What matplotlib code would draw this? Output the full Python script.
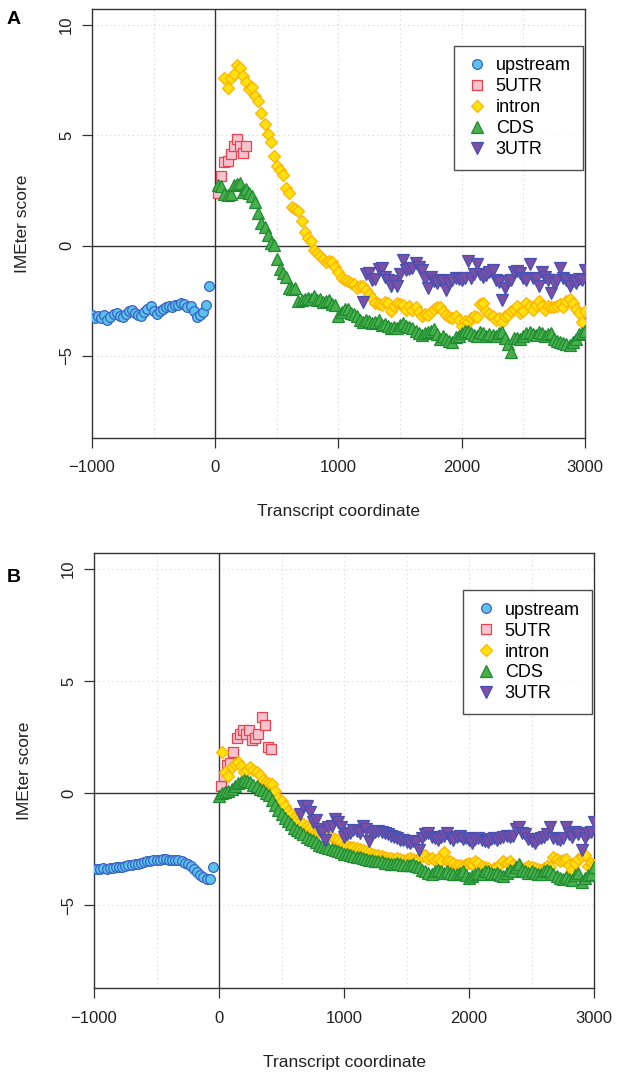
import numpy as np
import matplotlib
matplotlib.use("Agg")
import matplotlib.pyplot as plt
from matplotlib.lines import Line2D

plt.rcParams['font.family'] = ['Liberation Sans', 'DejaVu Sans']

STEP = 25  # bin width along the transcript

# ---- panel A ----
a_upstream_start = -1000
a_upstream = [-3.15, -3.3, -3.2, -3.3, -3.15, -3.35, -3.25, -3.1, -3.05, -3.2,
              -3.25, -3.1, -2.95, -2.9, -3.05, -3.15, -3.2, -3.0, -2.85, -2.75,
              -2.95, -3.1, -2.95, -2.85, -2.8, -2.75, -2.8, -2.7, -2.7, -2.6,
              -2.65, -2.8, -2.75, -2.95, -3.25, -3.15, -3.0, -2.7, -1.85]
a_utr5_start = 25
a_utr5 = [2.4, 3.15, 3.8, 3.85, 4.15, 4.5, 4.85, 4.5, 4.2, 4.5]
a_intron_start = 75
a_intron = [7.6, 7.15, 7.6, 7.8, 8.2, 8.05, 7.7, 7.4, 7.1, 7.2,
            6.8, 6.55, 6.0, 5.5, 5.05, 4.7, 4.05, 3.6, 3.45, 3.2,
            2.6, 2.4, 1.75, 1.65, 1.55, 1.1, 0.6, 0.35, 0.2, -0.2,
            -0.35, -0.45, -0.6, -0.75, -0.7, -0.75, -0.95, -1.2, -1.45, -1.55,
            -1.6, -1.7, -1.75, -1.9, -1.85, -1.85, -2.0, -2.2, -2.35, -2.6,
            -2.65, -2.7, -2.55, -2.6, -2.95, -2.75, -2.6, -2.65, -2.7, -2.9,
            -2.75, -2.9, -2.8, -3.0, -3.2, -3.1, -3.15, -3.0, -2.85, -2.8,
            -2.8, -2.95, -3.15, -3.25, -3.3, -3.2, -3.35, -3.65, -3.4, -3.45,
            -3.3, -3.2, -3.25, -2.65, -2.6, -2.95, -3.1, -3.2, -3.35, -3.3,
            -3.45, -3.2, -3.15, -2.95, -2.85, -2.75, -3.05, -2.95, -2.6, -2.75,
            -2.9, -2.7, -2.5, -2.75, -2.9, -2.75, -2.8, -2.8, -2.75, -2.65,
            -2.8, -2.5, -2.4, -2.6, -2.85, -3.05, -3.45, -2.95]
a_cds_start = 25
a_cds = [2.75, 2.7, 2.35, 2.3, 2.35, 2.75, 2.8, 2.85, 2.45, 2.55,
         2.4, 2.25, 2.0, 1.5, 1.05, 0.85, 0.5, 0.1, 0.05, -0.6,
         -1.05, -1.25, -1.4, -1.9, -1.95, -1.9, -2.5, -2.45, -2.4, -2.35,
         -2.4, -2.3, -2.45, -2.4, -2.55, -2.5, -2.45, -2.65, -2.7, -3.2,
         -3.0, -2.85, -2.85, -3.05, -3.1, -3.2, -3.35, -3.45, -3.35, -3.4,
         -3.5, -3.45, -3.35, -3.6, -3.55, -3.65, -3.75, -3.7, -3.75, -3.6,
         -3.5, -3.65, -3.7, -3.75, -3.85, -3.95, -4.05, -3.95, -3.9, -3.85,
         -3.8, -4.0, -4.25, -4.1, -4.25, -4.3, -4.35, -4.15, -4.1, -3.95,
         -3.85, -3.85, -3.95, -4.05, -4.1, -3.9, -3.95, -4.1, -4.0, -4.05,
         -4.1, -3.95, -3.9, -4.2, -4.45, -4.8, -4.2, -4.2, -4.25, -4.1,
         -3.95, -3.9, -4.0, -4.05, -3.9, -3.95, -4.1, -4.0, -3.95, -4.25,
         -4.3, -4.35, -4.4, -4.45, -4.5, -4.35, -4.25, -4.0, -3.95, -3.85]
a_utr3_start = 1200
a_utr3 = [-2.55, -1.3, -1.25, -1.55, -1.5, -1.05, -1.0, -1.4, -1.55, -1.85,
          -1.6, -1.85, -1.3, -0.65, -1.1, -1.05, -1.0, -0.8, -0.95, -1.1,
          -1.5, -1.9, -1.4, -1.6, -1.7, -1.55, -1.6, -2.0, -1.7, -1.55,
          -1.45, -1.5, -1.55, -1.45, -0.7, -1.45, -1.3, -0.85, -1.3, -1.4,
          -1.35, -1.2, -1.1, -1.55, -1.65, -2.45, -1.9, -1.6, -1.55, -1.2,
          -1.15, -1.25, -1.45, -1.55, -0.85, -1.45, -1.5, -1.85, -1.2, -1.4,
          -1.55, -2.15, -1.7, -1.55, -1.0, -1.45, -1.55, -1.85, -1.6, -1.7,
          -1.5, -1.55, -1.1]

# ---- panel B ----
b_upstream_start = -1000
b_upstream = [-3.38, -3.4, -3.38, -3.35, -3.37, -3.35, -3.33, -3.3, -3.32, -3.28,
              -3.25, -3.22, -3.2, -3.18, -3.15, -3.1, -3.08, -3.05, -3.02, -3.0,
              -2.98, -2.97, -2.95, -2.93, -2.97, -3.0, -2.98, -3.0, -3.05, -3.1,
              -3.15, -3.25, -3.38, -3.52, -3.65, -3.75, -3.82, -3.85, -3.3]
b_utr5_start = 15
b_utr5 = [0.3, 0.75, 1.25, 1.35, 1.85, 2.45, 2.65, 2.8, 2.65, 2.8,
          2.35, 2.45, 2.65, 3.4, 3.05, 2.05, 1.95]
b_intron_start = 25
b_intron = [1.85, 0.95, 0.75, 1.15, 1.3, 1.4, 1.2, 0.95, 1.05, 1.15,
            1.05, 0.95, 0.8, 0.6, 0.5, 0.45, 0.4, 0.1, -0.2, -0.35,
            -0.6, -0.8, -0.95, -1.1, -1.2, -1.3, -1.4, -1.45, -1.55, -1.65,
            -1.75, -1.75, -1.75, -1.85, -1.9, -1.95, -2.05, -2.1, -2.2, -2.3,
            -2.35, -2.4, -2.4, -2.45, -2.5, -2.55, -2.6, -2.65, -2.7, -2.75,
            -2.75, -2.8, -2.85, -2.9, -2.9, -2.95, -2.9, -2.95, -3.0, -2.95,
            -2.9, -2.95, -3.0, -2.95, -2.8, -2.75, -2.95, -2.9, -3.0, -2.95,
            -3.05, -2.65, -3.05, -3.05, -3.1, -3.2, -3.2, -3.25, -3.15, -3.1,
            -3.15, -3.05, -3.1, -3.25, -3.3, -3.35, -3.45, -3.35, -3.3, -3.15,
            -3.05, -3.1, -3.05, -3.2, -3.3, -3.25, -3.4, -3.35, -3.25, -3.3,
            -3.35, -3.4, -3.45, -3.35, -3.25, -3.3, -2.85, -2.95, -3.05, -3.0,
            -2.95, -3.2, -3.45, -3.1, -2.95, -2.8, -2.75, -3.25, -3.1, -3.2]
b_cds_start = 0
b_cds = [-0.15, 0.0, 0.05, 0.1, 0.2, 0.3, 0.45, 0.5, 0.6, 0.55,
         0.5, 0.35, 0.3, 0.2, 0.15, 0.0, -0.1, -0.3, -0.55, -0.75,
         -0.95, -1.1, -1.25, -1.4, -1.55, -1.65, -1.75, -1.85, -1.95, -2.05,
         -2.1, -2.2, -2.3, -2.35, -2.4, -2.45, -2.5, -2.55, -2.6, -2.65,
         -2.7, -2.7, -2.75, -2.8, -2.85, -2.85, -2.9, -2.95, -3.0, -3.0,
         -3.05, -3.05, -3.05, -3.1, -3.1, -3.15, -3.15, -3.1, -3.15, -3.2,
         -3.2, -3.2, -3.15, -3.25, -3.3, -3.45, -3.5, -3.55, -3.6, -3.5,
         -3.45, -3.5, -3.55, -3.5, -3.55, -3.6, -3.6, -3.55, -3.5, -3.65,
         -3.8, -3.7, -3.6, -3.55, -3.6, -3.5, -3.5, -3.55, -3.6, -3.55,
         -3.65, -3.7, -3.55, -3.45, -3.5, -3.3, -3.15, -3.45, -3.5, -3.55,
         -3.5, -3.55, -3.6, -3.6, -3.5, -3.45, -3.5, -3.6, -3.7, -3.8,
         -3.85, -3.75, -3.85, -3.9, -3.65, -3.55, -3.95, -3.8, -3.65, -3.6,
         -3.3]
b_utr3_start = 650
b_utr3 = [-0.95, -0.6, -0.6, -0.85, -1.3, -1.2, -1.6, -1.75, -2.1, -1.5,
          -1.45, -1.15, -1.3, -1.5, -1.95, -1.85, -1.8, -1.65, -1.7, -1.8,
          -1.45, -1.6, -2.15, -1.85, -1.75, -1.7, -1.75, -1.8, -1.85, -1.9,
          -1.95, -2.0, -2.1, -2.1, -2.2, -2.25, -2.15, -2.2, -2.55, -2.0,
          -1.85, -1.8, -1.95, -2.0, -2.1, -1.95, -1.9, -1.8, -2.0, -2.1,
          -1.95, -1.9, -2.05, -2.0, -2.1, -2.25, -2.05, -2.0, -2.1, -2.15,
          -2.2, -2.05, -2.0, -2.1, -2.0, -1.95, -1.9, -1.95, -1.9, -1.6,
          -1.5, -1.8, -1.85, -2.05, -2.15, -2.25, -2.05, -2.0, -1.95, -1.85,
          -1.5, -2.0, -2.05, -2.1, -2.0, -1.5, -1.85, -1.95, -1.75, -1.85,
          -2.55, -2.0, -1.8, -1.75, -1.3]

series_names = ["upstream", "5UTR", "intron", "CDS", "3UTR"]
x_ticks = [-1000, 0, 1000, 2000, 3000]
y_ticks = [-5, 0, 5, 10]

styles = {
    "upstream": dict(marker='o', markerfacecolor='#5BC3EB', markeredgecolor='#3A62C4', markersize=7),
    "5UTR": dict(marker='s', markerfacecolor='#F6C3CE', markeredgecolor='#E8434F', markersize=6.5),
    "intron": dict(marker='D', markerfacecolor='#FFE10F', markeredgecolor='#FFB300', markersize=6.5),
    "CDS": dict(marker='^', markerfacecolor='#47B04B', markeredgecolor='#1F8A32', markersize=8),
    "3UTR": dict(marker='v', markerfacecolor='#7D4EA6', markeredgecolor='#4650B0', markersize=8),
}


def xs(start, vals):
    return start + STEP * np.arange(len(vals))


def draw_panel(ax, data):
    # light dotted grid, then the solid zero lines
    for gx in range(-1000, 3001, 500):
        ax.axvline(gx, color='#D4D4D4', lw=0.8, ls=(0, (1, 3)), zorder=0)
    for gy in y_ticks:
        ax.axhline(gy, color='#D4D4D4', lw=0.8, ls=(0, (1, 3)), zorder=0)
    ax.axhline(0, color='#333333', lw=1.0, zorder=1)
    ax.axvline(0, color='#333333', lw=1.0, zorder=1)

    for name in series_names:
        start, vals = data[name]
        ax.plot(xs(start, vals), vals, ls='none', markeredgewidth=0.9,
                zorder=3, **styles[name])

    ax.set_xlim(-1000, 3000)
    ax.set_ylim(-8.72, 10.72)
    ax.set_xticks(x_ticks)
    ax.set_xticklabels(["\u22121000", "0", "1000", "2000", "3000"])
    ax.set_yticks(y_ticks)
    ax.set_yticklabels(["\u22125", "0", "5", "10"], rotation=90, va='center')
    ax.tick_params(axis='both', length=7, width=0.9, labelsize=12, color='#333333',
                   labelcolor='#222222')
    ax.tick_params(axis='x', pad=9)
    ax.tick_params(axis='y', pad=6)
    for sp in ax.spines.values():
        sp.set_linewidth(1.0)
        sp.set_color('#333333')
    ax.set_xlabel("Transcript coordinate", fontsize=12.5, labelpad=21, color='#222222')
    ax.set_ylabel("IMEter score", fontsize=12.5, labelpad=21, color='#222222')

    handles = [Line2D([], [], ls='none', markeredgewidth=0.9, **styles[n]) for n in series_names]
    leg = ax.legend(handles, series_names, loc='upper right', bbox_to_anchor=(0.995, 0.915),
                    borderaxespad=0, fontsize=13, frameon=True, fancybox=False,
                    edgecolor='#222222', handlelength=1.2, handletextpad=0.45,
                    labelspacing=0.22, borderpad=0.65)
    leg.get_frame().set_linewidth(1.0)


fig = plt.figure(figsize=(6.21, 10.73), dpi=100)
ax_a = fig.add_axes([0.1481, 0.5918, 0.7939, 0.3996])
ax_b = fig.add_axes([0.1514, 0.0788, 0.8052, 0.4060])

draw_panel(ax_a, {
    "upstream": (a_upstream_start, a_upstream),
    "5UTR": (a_utr5_start, a_utr5),
    "intron": (a_intron_start, a_intron),
    "CDS": (a_cds_start, a_cds),
    "3UTR": (a_utr3_start, a_utr3),
})
draw_panel(ax_b, {
    "upstream": (b_upstream_start, b_upstream),
    "5UTR": (b_utr5_start, b_utr5),
    "intron": (b_intron_start, b_intron),
    "CDS": (b_cds_start, b_cds),
    "3UTR": (b_utr3_start, b_utr3),
})

fig.text(0.0225, 0.982, "A", fontsize=14, fontweight='bold', va='center', ha='center')
fig.text(0.0225, 0.462, "B", fontsize=14, fontweight='bold', va='center', ha='center')

fig.savefig("out.png", dpi=100)
